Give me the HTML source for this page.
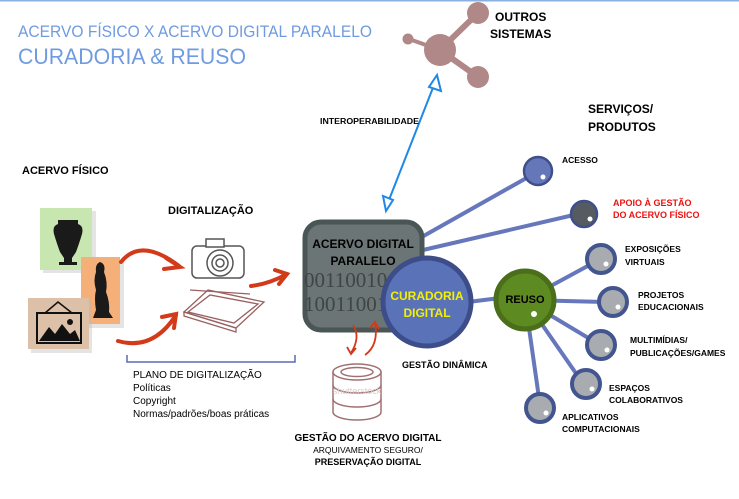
<!DOCTYPE html>
<html><head><meta charset="utf-8"><style>
html,body{margin:0;padding:0;background:#fff;}
svg{display:block;font-family:"Liberation Sans",sans-serif;}
.b{font-weight:bold;}
</style></head><body>
<svg width="739" height="499" viewBox="0 0 739 499" xmlns="http://www.w3.org/2000/svg">
<rect x="0" y="0" width="739" height="1.5" fill="#8ab0e0"/>
<text x="18" y="37" font-size="17" fill="#6f9be0" textLength="354" lengthAdjust="spacingAndGlyphs">ACERVO FÍSICO X ACERVO DIGITAL PARALELO</text>
<text x="18" y="64" font-size="22" fill="#6f9be0" textLength="228" lengthAdjust="spacingAndGlyphs">CURADORIA &amp; REUSO</text>

<!-- outros sistemas -->
<g fill="#b08888" stroke="#b08888">
<line x1="440" y1="50" x2="478" y2="13" stroke-width="6"/>
<line x1="440" y1="50" x2="478" y2="77" stroke-width="6"/>
<line x1="440" y1="50" x2="409" y2="39" stroke-width="4"/>
<circle cx="440" cy="50" r="16" stroke="none"/>
<circle cx="478" cy="13" r="11" stroke="none"/>
<circle cx="478" cy="77" r="11" stroke="none"/>
<circle cx="408" cy="39" r="5.5" stroke="none"/>
</g>
<text x="495" y="21" font-size="12" class="b">OUTROS</text>
<text x="490" y="38" font-size="12" class="b">SISTEMAS</text>

<!-- interoperability arrow -->
<line x1="387" y1="205" x2="436" y2="80" stroke="#1e88e8" stroke-width="2"/>
<polygon points="437,75 441,91 429,87" fill="#fff" stroke="#1e88e8" stroke-width="2"/>
<polygon points="386,211 383,196 393,200" fill="#fff" stroke="#1e88e8" stroke-width="2"/>
<text x="320" y="124" font-size="8" class="b" textLength="99" lengthAdjust="spacingAndGlyphs">INTEROPERABILIDADE</text>

<text x="588" y="113" font-size="12" class="b">SERVIÇOS/</text>
<text x="588" y="131" font-size="12" class="b">PRODUTOS</text>

<text x="22" y="174" font-size="11" class="b">ACERVO FÍSICO</text>
<text x="168" y="214" font-size="11" class="b">DIGITALIZAÇÃO</text>

<!-- physical items -->
<rect x="43" y="211" width="53" height="62" fill="#bbbbbb" opacity="0.4"/>
<rect x="40" y="208" width="52" height="62" fill="#c8e6b0"/>
<path d="M58,220 h20 v4 q6,2 4,10 q-3,10 -6,18 l-4,6 v4 h5 v3 h-18 v-3 h5 v-4 l-4,-6 q-3,-8 -6,-18 q-2,-8 4,-10z" fill="#1a1a1a"/>
<rect x="84" y="260" width="40" height="68" fill="#bbbbbb" opacity="0.4"/>
<rect x="81" y="257" width="39" height="67" fill="#f5b07a"/>
<path d="M100,262 q6,2 4,10 q4,10 2,20 q4,10 3,20 l4,6 h-20 l3,-8 q-2,-12 0,-20 q-3,-10 0,-18 q-1,-8 4,-10z" fill="#1a1a1a"/>
<rect x="31" y="301" width="61" height="52" fill="#bbbbbb" opacity="0.4"/>
<rect x="28" y="298" width="61" height="51" fill="#dcc0a8"/>
<polyline points="45,313 58,302 72,313" fill="none" stroke="#111" stroke-width="1.5"/>
<rect x="37" y="313" width="44" height="30" fill="none" stroke="#111" stroke-width="2"/>
<path d="M39,341 l10,-14 l6,7 l7,-10 l8,10 l5,-4 l5,11z" fill="#111"/>
<circle cx="70" cy="322" r="3" fill="#111"/>

<!-- red arrows -->
<g fill="none" stroke="#d23a1a" stroke-width="4" stroke-linecap="round">
<path d="M121,262 q20,-25 58,4"/>
<path d="M166,258 l14,9 l-16,2"/>
<path d="M118,341 q35,10 58,-26"/>
<path d="M162,317 l14,-3 l-2,14"/>
<path d="M251,286 q18,-2 36,-12"/>
<path d="M275,270 l12,4 l-8,10"/>
</g>

<!-- camera -->
<g fill="#fff" stroke="#555" stroke-width="1.5">
<rect x="192" y="246" width="52" height="32" rx="5"/>
<rect x="206" y="239" width="18" height="8"/>
<circle cx="220" cy="263" r="13"/>
<circle cx="220" cy="263" r="8"/>
<circle cx="220" cy="263" r="4"/>
</g>
<!-- scanner -->
<g fill="none" stroke="#9a6060" stroke-width="1.3">
<polygon points="184,312 208,290 264,302 236,328"/>
<polygon points="188,312 210,295 258,304 234,323"/>
<polygon points="184,312 236,328 236,332 184,316"/>
<line x1="190" y1="290" x2="250" y2="294"/>
</g>

<!-- bracket -->
<path d="M127,355 V362 H295 V355" fill="none" stroke="#5b6bb0" stroke-width="1.5"/>
<g font-size="10">
<text x="133" y="378">PLANO DE DIGITALIZAÇÃO</text>
<text x="133" y="391">Políticas</text>
<text x="133" y="404">Copyright</text>
<text x="133" y="417">Normas/padrões/boas práticas</text>
</g>

<!-- service lines -->
<g stroke="#6677bb" stroke-width="4">
<line x1="420" y1="238" x2="530" y2="176"/>
<line x1="423" y1="250" x2="578" y2="214"/>
<line x1="468" y1="302" x2="500" y2="298"/>
<line x1="525" y1="300" x2="595" y2="262"/>
<line x1="525" y1="300" x2="605" y2="302"/>
<line x1="525" y1="300" x2="595" y2="342"/>
<line x1="525" y1="300" x2="582" y2="382"/>
<line x1="525" y1="300" x2="540" y2="405"/>
</g>

<!-- acervo digital box -->
<rect x="305" y="222" width="117" height="108" rx="16" fill="#6b7575" stroke="#4a5555" stroke-width="5"/>
<text x="363" y="248" font-size="12" class="b" text-anchor="middle">ACERVO DIGITAL</text>
<text x="363" y="265" font-size="12" class="b" text-anchor="middle">PARALELO</text>
<text x="304" y="287" font-size="21" font-family="Liberation Serif, serif" fill="#3f4545">00110010</text>
<text x="304" y="311" font-size="21" font-family="Liberation Serif, serif" fill="#3f4545">10011001</text>

<!-- curadoria -->
<circle cx="427" cy="302" r="44" fill="#5a72b8" stroke="#3d4d8a" stroke-width="5"/>
<text x="427" y="300" font-size="12" class="b" fill="#f3f000" text-anchor="middle">CURADORIA</text>
<text x="427" y="317" font-size="12" class="b" fill="#f3f000" text-anchor="middle">DIGITAL</text>
<text x="402" y="368" font-size="9" class="b">GESTÃO DINÂMICA</text>

<!-- db arrows -->
<g fill="none" stroke="#d23a1a" stroke-width="1.8">
<path d="M353,325 q8,12 -2,28"/>
<path d="M347,347 l4,7 l5,-6"/>
<path d="M365,355 q14,-10 10,-32"/>
<path d="M370,328 l5,-6 l4,7"/>
</g>
<!-- database -->
<g fill="#fff" stroke="#a07070" stroke-width="1.5">
<path d="M333,372 v40 a24,8 0 0 0 48,0 v-40"/>
<ellipse cx="357" cy="372" rx="24" ry="8"/>
<ellipse cx="357" cy="372" rx="16" ry="4.5"/>
<path d="M333,385 a24,8 0 0 0 48,0 M333,399 a24,8 0 0 0 48,0"/>
</g>
<text x="357" y="394" font-size="9" fill="#ddcccc" text-anchor="middle">shutterstock</text>
<text x="368" y="441" font-size="10" class="b" text-anchor="middle">GESTÃO DO ACERVO DIGITAL</text>
<text x="368" y="453" font-size="8.5" text-anchor="middle">ARQUIVAMENTO SEGURO/</text>
<text x="368" y="465" font-size="9" class="b" text-anchor="middle">PRESERVAÇÃO DIGITAL</text>

<!-- service nodes -->
<circle cx="538" cy="171" r="14" fill="#6577b8" stroke="#3f4f8a" stroke-width="2.5"/>
<circle cx="543" cy="177" r="2.5" fill="#fff"/>
<text x="562" y="163" font-size="8.5" class="b">ACESSO</text>
<circle cx="584" cy="214" r="13" fill="#555b60" stroke="#3f4f8a" stroke-width="2.5"/>
<circle cx="590" cy="219" r="2.5" fill="#fff"/>
<text x="613" y="206" font-size="9" class="b" fill="#ee1111">APOIO À GESTÃO</text>
<text x="613" y="218" font-size="9" class="b" fill="#ee1111">DO ACERVO FÍSICO</text>

<circle cx="525" cy="300" r="29" fill="#5e8a22" stroke="#4a6e1a" stroke-width="5"/>
<text x="525" y="303" font-size="11" class="b" text-anchor="middle">REUSO</text>
<circle cx="534" cy="314" r="3" fill="#fff"/>

<g fill="#a8acb0" stroke="#43558f" stroke-width="4">
<circle cx="601" cy="259" r="14"/>
<circle cx="613" cy="302" r="14"/>
<circle cx="601" cy="345" r="14"/>
<circle cx="586" cy="384" r="14"/>
<circle cx="540" cy="408" r="14"/>
</g>
<g fill="#fff">
<circle cx="606" cy="264" r="2.5"/>
<circle cx="618" cy="307" r="2.5"/>
<circle cx="607" cy="350" r="2.5"/>
<circle cx="592" cy="389" r="2.5"/>
<circle cx="546" cy="413" r="2.5"/>
</g>
<g font-size="8.5" class="b">
<text x="625" y="252">EXPOSIÇÕES</text>
<text x="625" y="265">VIRTUAIS</text>
<text x="638" y="298">PROJETOS</text>
<text x="638" y="310">EDUCACIONAIS</text>
<text x="630" y="343">MULTIMÍDIAS/</text>
<text x="630" y="356">PUBLICAÇÕES/GAMES</text>
<text x="609" y="391">ESPAÇOS</text>
<text x="609" y="403">COLABORATIVOS</text>
<text x="562" y="420">APLICATIVOS</text>
<text x="562" y="432">COMPUTACIONAIS</text>
</g>
</svg>
</body></html>
